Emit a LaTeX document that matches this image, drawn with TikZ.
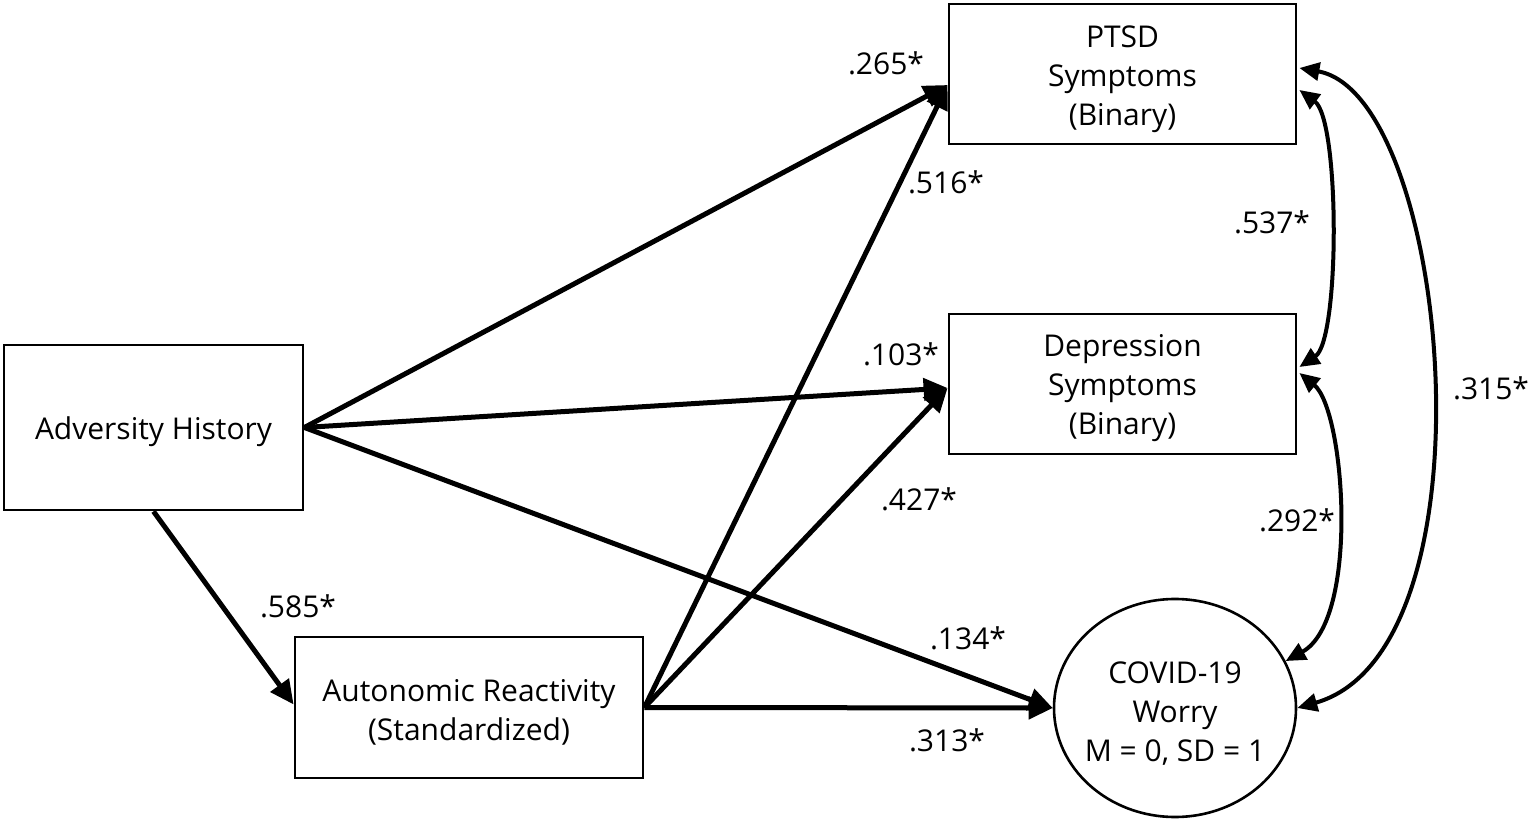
\documentclass[tikz,border=0pt]{standalone}
\usepackage{fontspec}
\setmainfont{Open Sans}
\usetikzlibrary{arrows.meta,calc,shapes.geometric}
\newcommand\mainfnt{\fontsize{15}{19.5}\selectfont}
\begin{document}
\begin{tikzpicture}[x=0.5pt,y=-0.5pt,
  box/.style={draw, line width=1.4pt, rectangle, inner sep=0pt},
  pathar/.style={line width=2.5pt, -{Triangle[length=12pt,width=11pt]}},
  corr/.style={line width=2pt, {Triangle[length=10pt,width=9pt]}-{Triangle[length=10pt,width=9pt]}},
  lbl/.style={font=\mainfnt, inner sep=0pt, align=center}]
\path[use as bounding box, fill=white] (0,0) rectangle (1535,822);

\node[box, minimum width=149.5pt, minimum height=82.5pt] (adv) at (153.5,427.5) {};
\node[box, minimum width=174pt, minimum height=70.5pt] (aut) at (469,707.5) {};
\node[box, minimum width=173.5pt, minimum height=70pt] (ptsd) at (1122.5,74) {};
\node[box, minimum width=173.5pt, minimum height=70pt] (dep) at (1122.5,384) {};
\node[draw, ellipse, line width=1.3pt, minimum width=121pt, minimum height=109pt, inner sep=0pt] (cov) at (1175,708) {};

\node[lbl] (advtxt) at ($(adv.center)+(0,4)$) {Adversity History};
\node[lbl] (auttxt) at ($(aut.center)+(0,5)$) {Autonomic Reactivity\\(Standardized)};
\node[lbl] (ptsdtxt) at ($(ptsd.center)+(0,5)$) {PTSD\\Symptoms\\(Binary)};
\node[lbl] (deptxt) at ($(dep.center)+(0,4)$) {Depression\\Symptoms\\(Binary)};
\node[lbl] (covtxt) at ($(cov.center)+(0,6)$) {COVID-19\\Worry\\M = 0, SD = 1};

\draw[pathar] (adv.east) -- ($(ptsd.west)+(0,11)$);
\draw[pathar] (aut.east) -- ($(ptsd.west)+(0,11)$);
\draw[pathar] (adv.east) -- ($(dep.west)+(0,4)$);
\draw[pathar] (aut.east) -- ($(dep.west)+(0,4)$);
\draw[pathar] (adv.east) -- (cov.west);
\draw[pathar] (aut.east) -- (cov.west);
\draw[pathar] (adv.south) -- ($(aut.west)+(0,-3)$);

\draw[corr] ($(ptsd.east)+(2,16)$) .. controls (1340,120) and (1340,340) .. ($(dep.east)+(2,-17)$);
\draw[corr] ($(dep.east)+(2,-11)$) .. controls (1345,410) and (1360,620) .. (cov.23);
\draw[corr] ($(ptsd.east)+(2,-6)$) .. controls (1450,95) and (1500,650) .. (cov.east);

\node[lbl] (l265) at (886,63) {.265*};
\node[lbl] (l516) at (946,182) {.516*};
\node[lbl] (l537) at (1272,222) {.537*};
\node[lbl] (l103) at (901,354) {.103*};
\node[lbl] (l427) at (919,499) {.427*};
\node[lbl] (l292) at (1297,520) {.292*};
\node[lbl] (l315) at (1491,388) {.315*};
\node[lbl] (l585) at (298,606) {.585*};
\node[lbl] (l134) at (968,638) {.134*};
\node[lbl] (l313) at (947,740) {.313*};
\end{tikzpicture}
\end{document}
